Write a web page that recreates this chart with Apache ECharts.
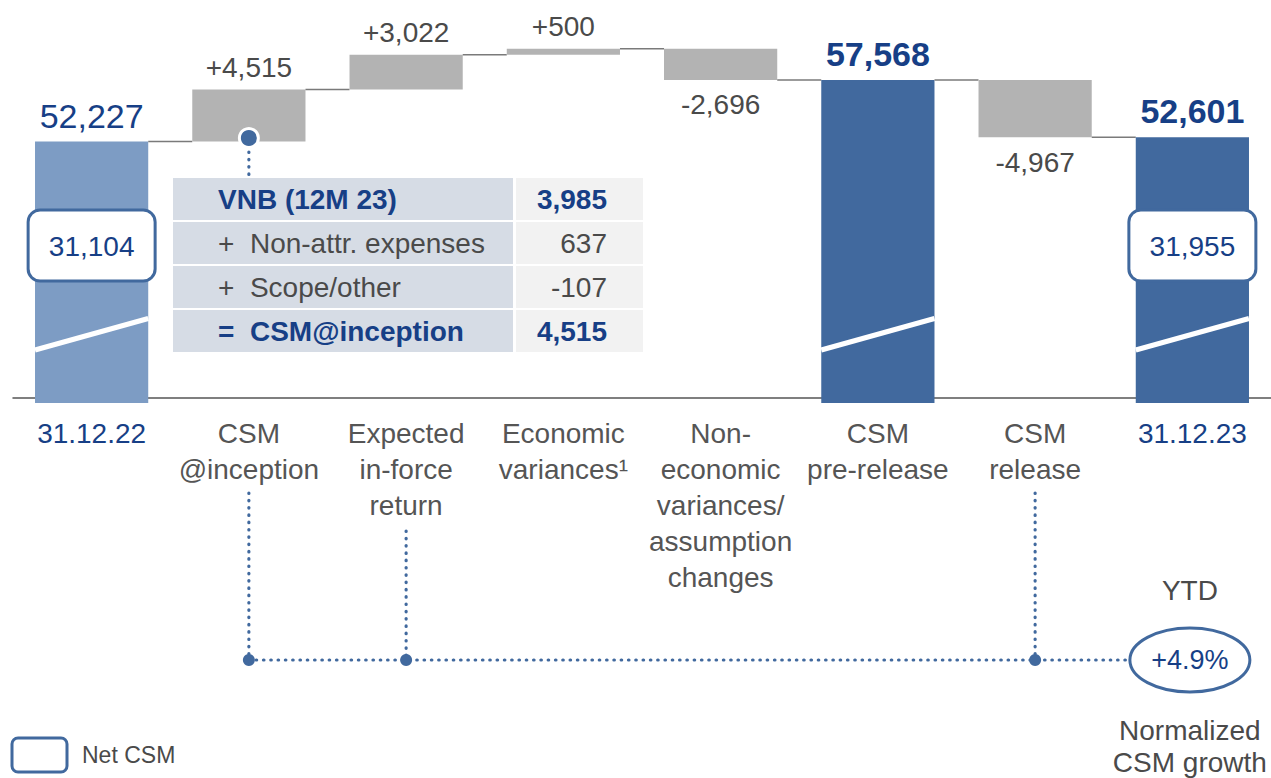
<!DOCTYPE html>
<html><head><meta charset="utf-8">
<script src="https://cdn.jsdelivr.net/npm/echarts@6/dist/echarts.min.js"></script>
<style>html,body{margin:0;padding:0;background:#fff}#c{width:1271px;height:778px}</style>
</head><body><div id="c"></div>
<script>
// ---- data ----
const categories = ['31.12.22', 'CSM\n@inception', 'Expected\nin-force\nreturn', 'Economic\nvariances\u00b9',
  'Non-\neconomic\nvariances/\nassumption\nchanges', 'CSM\npre-release', 'CSM\nrelease', '31.12.23'];
const values = [52227, 4515, 3022, 500, -2696, 57568, -4967, 52601];
const barKinds = ['total', 'delta', 'delta', 'delta', 'delta', 'total', 'delta', 'total'];
const totalBold = [false, false, false, false, false, true, false, true];
const netCsm = [31104, null, null, null, null, null, null, 31955];
const tableLabels = ['VNB (12M 23)', '+  Non-attr. expenses', '+  Scope/other', '=  CSM@inception'];
const tableValues = ['3,985', '637', '-107', '4,515'];
const tableBold = [true, false, false, true];
const ytdGrowth = '+4.9%';
const Y_MIN = 30000, Y_MAX = 64500;

const BLUE = '#41699e', LIGHTBLUE = '#7d9cc4', GRAY = '#b3b3b3', TXTBLUE = '#173f86', TXTGRAY = '#4a4a4a';
const FONT = '"Liberation Sans", Arial, sans-serif';
const fmt = v => Math.abs(v).toLocaleString('en-US');

// running totals
const levels = [], seriesData = [];
let level = 0;
values.forEach((v, i) => {
  if (barKinds[i] === 'total') { level = v; seriesData.push([i, Y_MIN, v]); }
  else { const s = level; level = s + v; seriesData.push([i, Math.min(s, level), Math.max(s, level)]); }
  levels.push(level);
});

function renderItem(params, api) {
  const i = params.dataIndex;
  const lo = api.value(1), hi = api.value(2);
  const pHi = api.coord([i, hi]);
  const cx = pHi[0], yHi = pHi[1];
  const yLo = api.coord([i, lo])[1];
  const bw = api.size([1, 0])[0] * 0.72;
  const x0 = cx - bw / 2;
  const isTotal = barKinds[i] === 'total';
  const children = [];
  const bottom = isTotal ? yLo + 5 : yLo;
  children.push({ type: 'rect', shape: { x: x0, y: yHi, width: bw, height: bottom - yHi },
    style: { fill: isTotal ? (i === 0 ? LIGHTBLUE : BLUE) : GRAY } });
  if (isTotal) {
    children.push({ type: 'line', shape: { x1: x0, y1: yLo - 48, x2: x0 + bw, y2: yLo - 79.5 },
      style: { stroke: '#fff', lineWidth: 5 } });
  }
  if (i < values.length - 1) {
    const y = api.coord([i, levels[i]])[1];
    const nx = api.coord([i + 1, levels[i]])[0] - bw / 2;
    children.push({ type: 'line', shape: { x1: x0 + bw, y1: y, x2: nx, y2: y },
      style: { stroke: '#7a7a7a', lineWidth: 1.5 } });
  }
  const v = values[i];
  if (isTotal) {
    children.push({ type: 'text', x: cx, y: yHi - 9, style: { text: fmt(v), fill: TXTBLUE,
      fontSize: 34, fontWeight: totalBold[i] ? 'bold' : 'normal', fontFamily: FONT, align: 'center', verticalAlign: 'bottom' } });
  } else if (v >= 0) {
    children.push({ type: 'text', x: cx, y: yHi - 8, style: { text: '+' + fmt(v), fill: TXTGRAY,
      fontSize: 28, fontFamily: FONT, align: 'center', verticalAlign: 'bottom' } });
  } else {
    children.push({ type: 'text', x: cx, y: yLo + 11, style: { text: '-' + fmt(v), fill: TXTGRAY,
      fontSize: 28, fontFamily: FONT, align: 'center', verticalAlign: 'top' } });
  }
  if (netCsm[i] != null) {
    const bx = cx - 63.5, by = yLo - 188;
    children.push({ type: 'rect', shape: { x: bx, y: by, width: 127, height: 71, r: 12 },
      style: { fill: '#fff', stroke: BLUE, lineWidth: 3 } });
    children.push({ type: 'text', x: cx, y: by + 36, style: { text: fmt(netCsm[i]), fill: TXTBLUE,
      fontSize: 28, fontFamily: FONT, align: 'center', verticalAlign: 'middle' } });
  }
  return { type: 'group', children };
}

const chart = echarts.init(document.getElementById('c'), null, { renderer: 'svg' });
const option = {
  animation: false,
  backgroundColor: '#fff',
  grid: { left: 13, top: 0, width: 1260, height: 398 },
  xAxis: {
    type: 'category', data: categories,
    axisLine: { show: true, lineStyle: { color: '#555', width: 1.5 } },
    axisTick: { show: false },
    axisLabel: {
      interval: 0, margin: 17,
      formatter: (val, idx) => val.split('\n').map(s => (barKinds[idx] === 'total' && idx !== 5 ? '{d|' : '{c|') + s + '}').join('\n'),
      rich: {
        c: { fontSize: 28, lineHeight: 36, color: '#555', fontFamily: FONT },
        d: { fontSize: 28, lineHeight: 36, color: TXTBLUE, fontFamily: FONT }
      }
    }
  },
  yAxis: { type: 'value', min: Y_MIN, max: Y_MAX, show: false, splitLine: { show: false } },
  series: [{ type: 'custom', renderItem, data: seriesData, encode: { x: 0, y: [1, 2] }, clip: false, z: 2 }]
};
chart.setOption(option);

// annotations
const px = i => chart.convertToPixel({ xAxisIndex: 0 }, i);
const g = [];
const dotted = (x1, y1, x2, y2) => ({ type: 'line', shape: { x1, y1, x2, y2 },
  style: { stroke: BLUE, lineWidth: 3.2, lineDash: [0.5, 6.8], lineCap: 'round' } });
const xIn = px(1), xEx = px(2), xRel = px(6), xEnd = px(7);
// table
const tL = 173, tT = 178, rowH = 44, c1W = 340, c2W = 127;
tableLabels.forEach((lab, r) => {
  g.push({ type: 'rect', shape: { x: tL, y: tT + r * rowH, width: c1W, height: rowH - 2 }, style: { fill: '#d6dce5' } });
  g.push({ type: 'rect', shape: { x: tL + c1W + 3, y: tT + r * rowH, width: c2W, height: rowH - 2 }, style: { fill: '#f2f2f2' } });
  const bold = tableBold[r];
  g.push({ type: 'text', x: tL + 45, y: tT + r * rowH + 21, style: { text: lab, fill: bold ? TXTBLUE : TXTGRAY,
    fontSize: 28, fontWeight: bold ? 'bold' : 'normal', fontFamily: FONT, verticalAlign: 'middle', align: 'left' } });
  g.push({ type: 'text', x: tL + 434, y: tT + r * rowH + 21, style: { text: tableValues[r], fill: bold ? TXTBLUE : TXTGRAY,
    fontSize: 28, fontWeight: bold ? 'bold' : 'normal', fontFamily: FONT, verticalAlign: 'middle', align: 'right' } });
});
// connector dot from table to bar
g.push(dotted(xIn, 152, xIn, 176));
g.push({ type: 'circle', shape: { cx: xIn, cy: 138, r: 9.5 }, style: { fill: BLUE, stroke: '#fff', lineWidth: 3 } });
// bottom dotted connectors
const yH = 660;
g.push(dotted(xIn, 493, xIn, yH));
g.push(dotted(xEx, 531, xEx, yH));
g.push(dotted(xRel, 493, xRel, yH));
g.push(dotted(xIn, yH, xEnd - 63, yH));
[xIn, xEx, xRel].forEach(x => g.push({ type: 'circle', shape: { cx: x, cy: yH, r: 6 }, style: { fill: BLUE } }));
g.push({ type: 'ellipse', shape: { cx: xEnd - 2.5, cy: yH, rx: 60, ry: 32 }, style: { fill: '#fff', stroke: BLUE, lineWidth: 3 } });
g.push({ type: 'text', x: xEnd - 2.5, y: yH, style: { text: ytdGrowth, fill: TXTBLUE, fontSize: 27, fontFamily: FONT, align: 'center', verticalAlign: 'middle' } });
g.push({ type: 'text', x: xEnd - 2.5, y: 590, style: { text: 'YTD', fill: TXTGRAY, fontSize: 28, fontFamily: FONT, align: 'center', verticalAlign: 'middle' } });
g.push({ type: 'text', x: xEnd - 2.5, y: 746, style: { text: 'Normalized\nCSM growth', fill: TXTGRAY, fontSize: 28, lineHeight: 32, fontFamily: FONT, align: 'center', verticalAlign: 'middle' } });
// legend
g.push({ type: 'rect', shape: { x: 12, y: 738, width: 55, height: 34, r: 6 }, style: { fill: '#fff', stroke: BLUE, lineWidth: 3 } });
g.push({ type: 'text', x: 82, y: 755, style: { text: 'Net CSM', fill: TXTGRAY, fontSize: 23, fontFamily: FONT, align: 'left', verticalAlign: 'middle' } });
g.forEach(e => { e.z = 100; });
chart.setOption({ graphic: { elements: g } });
</script></body></html>
